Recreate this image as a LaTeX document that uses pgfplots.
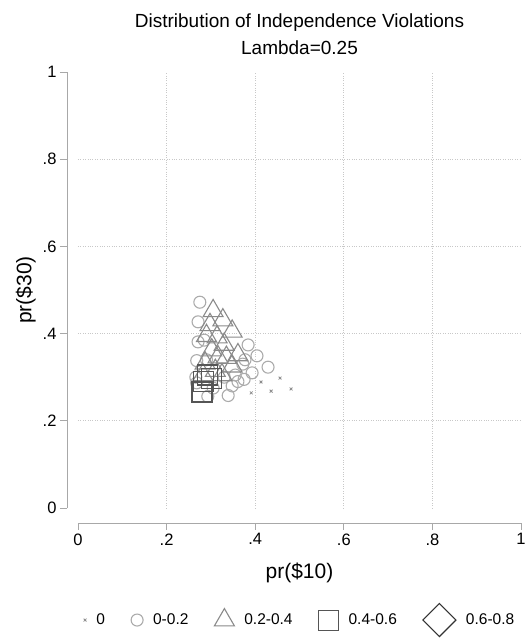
\documentclass[border=0pt]{standalone}
\usepackage{pgfplots}
\pgfplotsset{compat=1.18}
\usepackage{fontspec}
\setmainfont{Liberation Sans}
\definecolor{cx}{HTML}{8C8C8C}
\definecolor{cc}{HTML}{ABABAB}
\definecolor{ct}{HTML}{8A8A8A}
\definecolor{cs}{HTML}{555555}
\definecolor{cd}{HTML}{333333}
\definecolor{axc}{HTML}{A8A8A8}
\definecolor{gridc}{HTML}{C8C8C8}
\begin{document}
\begin{tikzpicture}
\begin{axis}[
  name=ax, at={(0,0)}, anchor=south west,
  scale only axis, width=443pt, height=436pt,
  xmin=0, xmax=1, ymin=0, ymax=1,
  axis lines=left,
  axis line style={-, draw=axc, line width=0.9pt},
  axis x line shift=15pt,
  axis y line shift=11pt,
  tick align=outside,
  major tick length=7pt,
  tick style={draw=axc, line width=0.9pt},
  xtick={0.2,0.4,0.6,0.8}, xticklabels={.2,.4,.6,.8},
  ytick={0.2,0.4,0.6,0.8}, yticklabels={.2,.4,.6,.8},
  extra x ticks={0,1}, extra x tick labels={0,1},
  extra y ticks={0,1}, extra y tick labels={0,1},
  extra tick style={grid=none},
  grid=major,
  major grid style={draw=gridc, dotted, line width=0.7pt},
  ticklabel style={font=\fontsize{16.5}{19}\selectfont},
  xlabel={pr(\$10)}, ylabel={pr(\$30)},
  label style={font=\fontsize{21}{24}\selectfont},
  xlabel style={yshift=3pt},
  ylabel style={yshift=-14pt},
  title={Distribution of Independence Violations\\Lambda=0.25},
  title style={align=center, font=\fontsize{19}{27}\selectfont, yshift=8pt},
  legend columns=5,
  legend style={at={(axis description cs:0.501,-0.257)}, anchor=center, draw=none,
    font=\fontsize{15.5}{18}\selectfont,
    /tikz/every odd column/.append style={column sep=8pt},
    /tikz/every even column/.append style={column sep=24pt}},
  legend cell align=left,
]
\addplot[only marks, mark=x, mark size=2pt, color=cx, line width=0.8pt] coordinates {
(0.391,0.264) (0.413,0.289) (0.436,0.268) (0.456,0.298) (0.481,0.273)
};
\addlegendentry{0}
\addplot[only marks, mark=o, mark size=6pt, color=cc, line width=1.1pt] coordinates {
(0.275,0.472) (0.271,0.427) (0.271,0.381) (0.268,0.338) (0.266,0.300)
(0.268,0.287) (0.293,0.256) (0.339,0.258) (0.348,0.280) (0.361,0.290)
(0.384,0.374) (0.377,0.340) (0.404,0.349) (0.429,0.323) (0.393,0.310)
(0.372,0.330) (0.355,0.305) (0.375,0.295) (0.330,0.300) (0.305,0.275)
(0.290,0.340) (0.285,0.385)
};
\addlegendentry{0-0.2}
\addplot[only marks, mark=triangle, mark size=11.5pt, color=ct, line width=1.1pt] coordinates {
(0.305,0.452) (0.298,0.420) (0.327,0.431) (0.348,0.405) (0.314,0.392)
(0.290,0.395) (0.330,0.375) (0.302,0.362) (0.316,0.346) (0.361,0.351)
(0.348,0.325) (0.287,0.332) (0.310,0.315) (0.335,0.345) (0.282,0.305)
(0.325,0.305)
};
\addlegendentry{0.2-0.4}
\addplot[only marks, mark=square, mark size=10pt, color=cs, line width=1.1pt] coordinates {
(0.293,0.305) (0.280,0.266) (0.302,0.298) (0.283,0.290)
};
\addlegendentry{0.4-0.6}
\addlegendimage{only marks, mark=square, mark size=11.7pt, mark options={rotate=45}, color=cd, line width=1.1pt}
\addlegendentry{0.6-0.8}
\end{axis}
\pgfresetboundingbox
\path (-78pt,-134pt) rectangle (452pt,508pt);
\end{tikzpicture}
\end{document}
